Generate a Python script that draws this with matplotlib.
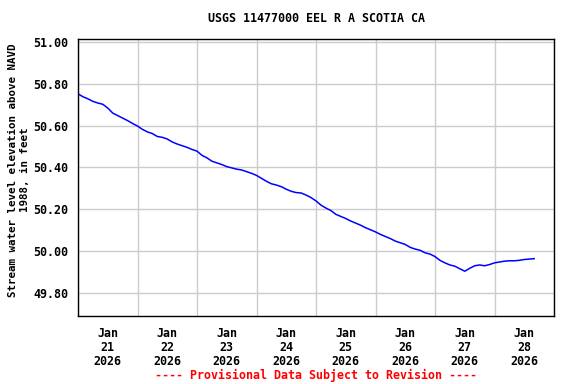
import matplotlib
matplotlib.use("Agg")
import matplotlib.pyplot as plt
import matplotlib.dates as mdates
import pandas as pd
import numpy as np

title = "USGS 11477000 EEL R A SCOTIA CA"
ylabel = "Stream water level elevation above NAVD\n1988, in feet"
footer = "---- Provisional Data Subject to Revision ----"

start = "2026-01-21 00:00"
step_hours = 2
values = [
    50.752, 50.738, 50.728, 50.716, 50.708, 50.702, 50.684, 50.660, 50.648, 50.636,
    50.624, 50.610, 50.598, 50.582, 50.570, 50.562, 50.548, 50.544, 50.536, 50.522,
    50.512, 50.504, 50.496, 50.486, 50.478, 50.458, 50.446, 50.430, 50.422, 50.414,
    50.404, 50.398, 50.392, 50.388, 50.380, 50.372, 50.362, 50.348, 50.334, 50.322,
    50.316, 50.308, 50.296, 50.286, 50.280, 50.278, 50.268, 50.256, 50.240, 50.220,
    50.206, 50.194, 50.176, 50.166, 50.156, 50.144, 50.134, 50.124, 50.112, 50.102,
    50.092, 50.080, 50.070, 50.060, 50.048, 50.040, 50.032, 50.018, 50.010, 50.004,
    49.992, 49.986, 49.974, 49.956, 49.944, 49.934, 49.928, 49.916, 49.904, 49.918,
    49.930, 49.934, 49.930, 49.936, 49.944, 49.948, 49.952, 49.954, 49.954, 49.956,
    49.960, 49.962, 49.964,
]
yticks = [49.80, 50.00, 50.20, 50.40, 50.60, 50.80, 51.00]
ylim = (49.69, 51.014)
xlim = ("2026-01-21 00:00", "2026-01-29 00:00")

times = pd.date_range(start, periods=len(values), freq=f"{step_hours}h")

plt.rcParams['font.family'] = ['DejaVu Sans Mono']
plt.rcParams['font.weight'] = 'bold'
fs = 8.4

fig = plt.figure(figsize=(5.76, 3.84), dpi=100)
ax = fig.add_axes([78/576, 1-316/384, (554-78)/576, (316-39)/384])

ax.plot(times, values, color="#0000ff", linewidth=1.1)

ax.set_xlim(pd.Timestamp(xlim[0]), pd.Timestamp(xlim[1]))
ax.set_ylim(*ylim)
ax.set_yticks(yticks)
ax.set_yticklabels([f"{v:.2f}" for v in yticks])

ax.xaxis.set_major_locator(mdates.DayLocator())
ax.xaxis.set_minor_locator(mdates.HourLocator(byhour=[12]))
ax.xaxis.set_major_formatter(plt.NullFormatter())
ax.xaxis.set_minor_formatter(mdates.DateFormatter("%b\n%d\n%Y"))
ax.grid(True, which="major", color="#cccccc", linewidth=1)
ax.tick_params(axis="both", which="both", length=0)
ax.tick_params(axis="y", pad=7, labelsize=fs)
ax.tick_params(axis="x", which="minor", pad=8, labelsize=fs)
for lbl in ax.xaxis.get_minorticklabels():
    lbl.set_linespacing(1.1)
    lbl.set_fontweight("bold")
for lbl in ax.get_yticklabels():
    lbl.set_fontweight("bold")
for s in ax.spines.values():
    s.set_color("black")
    s.set_linewidth(1)

fig.text(316/576, 1-19/384, title, ha="center", va="center", fontsize=fs, fontweight="bold")
fig.text(19/576, 1-170/384, ylabel, ha="center", va="center", rotation=90,
         fontsize=7.8, fontweight="bold", multialignment="center", linespacing=1.15)
fig.text(316/576, 1-375/384, footer, ha="center", va="center", fontsize=fs,
         fontweight="bold", color="red")

fig.savefig("out.png", dpi=100)
